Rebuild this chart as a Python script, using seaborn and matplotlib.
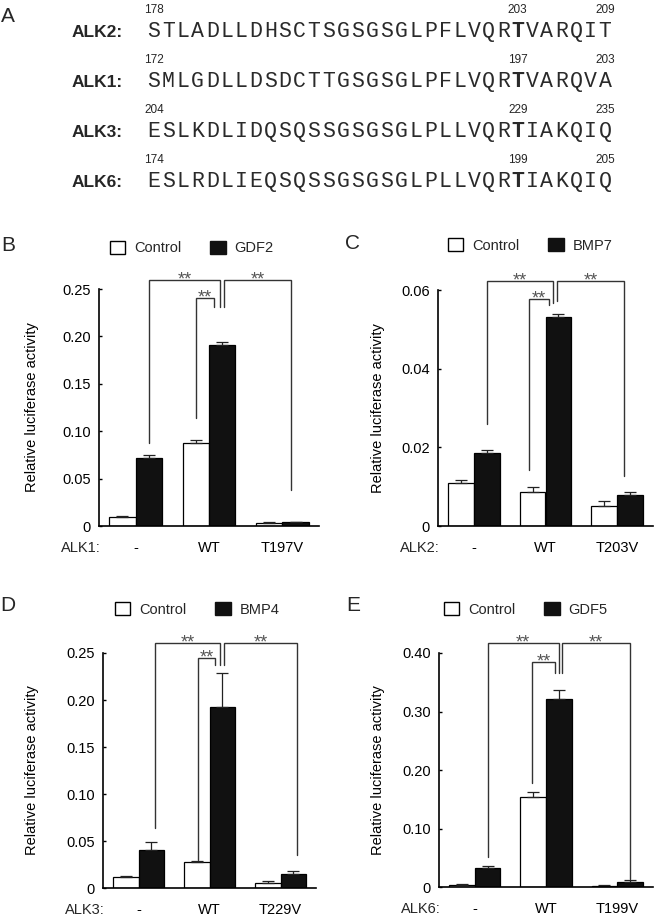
import matplotlib
matplotlib.use("Agg")
import matplotlib.pyplot as plt
import matplotlib.patches as mpatches
import numpy as np
import pandas as pd
import seaborn as sns

# ---- panel A: sequence alignment
alk_names = ['ALK2:', 'ALK1:', 'ALK3:', 'ALK6:']
sequences = ['STLADLLDHSCTSGSGSGLPFLVQRTVARQIT',
             'SMLGDLLDSDCTTGSGSGLPFLVQRTVARQVA',
             'ESLKDLIDQSQSSGSGSGLPLLVQRTIAKQIQ',
             'ESLRDLIEQSQSSGSGSGLPLLVQRTIAKQIQ']
start_pos = [178, 172, 204, 174]
thr_pos = [203, 197, 229, 199]
end_pos = [209, 203, 235, 205]

# ---- panels B-E: luciferase data (mean, upper error)
constructs_B = ['-', 'WT', 'T197V']
control_B = [0.0092, 0.0874, 0.0035]
control_err_B = [0.0013, 0.0028, 0.0005]
gdf2_B = [0.0719, 0.191, 0.0042]
gdf2_err_B = [0.0031, 0.0028, 0.0005]

constructs_C = ['-', 'WT', 'T203V']
control_C = [0.0109, 0.0086, 0.0051]
control_err_C = [0.0008, 0.0014, 0.0013]
bmp7_C = [0.0186, 0.0532, 0.0078]
bmp7_err_C = [0.0006, 0.0008, 0.0009]

constructs_D = ['-', 'WT', 'T229V']
control_D = [0.0112, 0.0273, 0.0055]
control_err_D = [0.0013, 0.0015, 0.0015]
bmp4_D = [0.0400, 0.1926, 0.0148]
bmp4_err_D = [0.0086, 0.0360, 0.0032]

constructs_E = ['-', 'WT', 'T199V']
control_E = [0.0030, 0.153, 0.0025]
control_err_E = [0.0015, 0.010, 0.0008]
gdf5_E = [0.033, 0.321, 0.009]
gdf5_err_E = [0.003, 0.015, 0.003]

W, H = 664, 921
sns.set_theme(style='ticks')
plt.rcParams['font.family'] = ['Liberation Sans', 'DejaVu Sans']
plt.rcParams['axes.linewidth'] = 1.2

fig = plt.figure(figsize=(W / 100, H / 100), dpi=100)
ov = fig.add_axes([0, 0, 1, 1])
ov.set_xlim(0, W)
ov.set_ylim(H, 0)
ov.axis('off')

# sequence block
pitch = 14.55
x0 = 154
row_base = [37, 87, 137, 187]
for name, seq, s, t, e, yb in zip(alk_names, sequences, start_pos, thr_pos, end_pos, row_base):
    ov.text(123, yb, name, ha='right', va='baseline', fontsize=12.5, weight='bold')
    for j, ch in enumerate(seq):
        ov.text(x0 + j * pitch, yb, ch, ha='center', va='baseline',
                family='Liberation Mono', fontsize=15.5, color='#2a2a2a',
                weight='bold' if j == t - s else 'normal')
    for num in (s, t, e):
        ov.text(x0 + (num - s) * pitch, yb - 24, str(num), ha='center',
                va='baseline', fontsize=8.5)

ov.text(8, 16, 'A', ha='center', va='center', fontsize=15)


def rect(l, t, r, b):
    return [l / W, 1 - b / H, (r - l) / W, (b - t) / H]


def draw_panel(box, receptor, constructs, ligand, ctrl, ctrl_err, stim, stim_err,
               yticks, ylabels, brackets, letter, letter_xy, legend_xy, ylab_x):
    ax = fig.add_axes(rect(*box))
    df = pd.DataFrame({
        'construct': constructs * 2,
        'treatment': ['Control'] * 3 + [ligand] * 3,
        'value': list(ctrl) + list(stim),
    })
    sns.barplot(data=df, x='construct', y='value', hue='treatment',
                order=constructs, hue_order=['Control', ligand],
                palette=['white', '#111111'], edgecolor='black', linewidth=0.9,
                width=0.72, gap=0, errorbar=None, legend=False, ax=ax)
    for cont, err in zip(ax.containers, [ctrl_err, stim_err]):
        xs = [b.get_x() + b.get_width() / 2 for b in cont]
        ys = [b.get_height() for b in cont]
        ax.errorbar(xs, ys, yerr=[np.zeros(len(err)), err], fmt='none',
                    ecolor='#222222', elinewidth=0.9, capsize=4.5, capthick=0.9)

    ax.set_xlim(-0.5, 2.5)
    ax.set_ylim(0, yticks[-1])
    ax.set_yticks(yticks)
    ax.set_yticklabels(ylabels)
    ax.tick_params(axis='y', direction='in', length=2.5, width=1, pad=6,
                   labelsize=10.5, colors='black')
    ax.tick_params(axis='x', length=0, pad=11, labelsize=10.5, colors='black')
    ax.set_xlabel('')
    ax.set_ylabel('Relative luciferase activity', fontsize=10.5, color='black')
    ax.yaxis.set_label_coords(ylab_x, 0.5)
    ax.yaxis.label.set_va('center')
    sns.despine(ax=ax)
    for sp in ax.spines.values():
        sp.set_color('black')
    ax.annotate(receptor, xy=(0, 0), xycoords='axes fraction', xytext=(1, -11),
                textcoords='offset points', ha='right', va='top', fontsize=10.5)

    # significance brackets
    def bx(g, h, dx):
        return g + (h - 0.5) * 0.36 + dx

    for (l_bar, l_dx, r_bar, r_dx, top, lb, rb) in brackets:
        xl = bx(*l_bar, l_dx)
        xr = bx(*r_bar, r_dx)
        ax.plot([xl, xl, xr, xr], [lb, top, top, rb], color='#333333', lw=1.0,
                clip_on=False, solid_joinstyle='miter')
        ax.annotate('**', xy=((xl + xr) / 2, top), xytext=(0, -3.2),
                    textcoords='offset points', ha='center', va='baseline',
                    fontsize=13, color='#555555', annotation_clip=False)

    ov.text(letter_xy[0], letter_xy[1], letter, ha='center', va='center', fontsize=15)
    handles = [mpatches.Patch(facecolor='white', edgecolor='black', lw=1.0),
               mpatches.Patch(facecolor='#111111', edgecolor='#111111', lw=1.0)]
    fig.legend(handles, ['Control', ligand], loc='center left',
               bbox_to_anchor=(legend_xy[0] / W, 1 - legend_xy[1] / H),
               ncol=2, frameon=False, fontsize=10.5, handlelength=1.05,
               handleheight=1.0, handletextpad=0.6, columnspacing=2.0,
               borderpad=0, borderaxespad=0)
    return ax


# bracket layout: (left bar (group, hue), dx, right bar, dx, top, left end, right end)
brackets_B = [((0, 1), 0.0, (1, 1), -0.03, 0.259, 0.0877, 0.2305),
              ((1, 1), 0.025, (2, 1), -0.06, 0.259, 0.2305, 0.038),
              ((1, 0), 0.0, (1, 1), -0.11, 0.240, 0.114, 0.2305)]
brackets_C = [((0, 1), 0.0, (1, 1), -0.072, 0.0623, 0.026, 0.0568),
              ((1, 1), -0.016, (2, 1), -0.085, 0.0623, 0.0572, 0.0127),
              ((1, 0), -0.05, (1, 1), -0.128, 0.0577, 0.0142, 0.0563)]
brackets_D = [((0, 1), 0.05, (1, 1), -0.03, 0.2606, 0.064, 0.237),
              ((1, 1), 0.024, (2, 1), 0.05, 0.2606, 0.237, 0.035),
              ((1, 0), 0.02, (1, 1), -0.10, 0.2447, 0.030, 0.237)]
brackets_E = [((0, 1), 0.0, (1, 1), 0.0, 0.417, 0.051, 0.366),
              ((1, 1), 0.044, (2, 1), 0.0, 0.417, 0.366, 0.0137),
              ((1, 0), -0.016, (1, 1), -0.054, 0.385, 0.178, 0.366)]

draw_panel((99, 289, 319, 526), 'ALK1:', constructs_B, 'GDF2', control_B, control_err_B,
           gdf2_B, gdf2_err_B, [0, 0.05, 0.10, 0.15, 0.20, 0.25],
           ['0', '0.05', '0.10', '0.15', '0.20', '0.25'], brackets_B,
           'B', (8, 245), (110, 248), -0.305)
draw_panel((438, 290, 653, 526), 'ALK2:', constructs_C, 'BMP7', control_C, control_err_C,
           bmp7_C, bmp7_err_C, [0, 0.02, 0.04, 0.06],
           ['0', '0.02', '0.04', '0.06'], brackets_C,
           'C', (352, 243), (448, 245.5), -0.279)
draw_panel((103, 653, 316, 888), 'ALK3:', constructs_D, 'BMP4', control_D, control_err_D,
           bmp4_D, bmp4_err_D, [0, 0.05, 0.10, 0.15, 0.20, 0.25],
           ['0', '0.05', '0.10', '0.15', '0.20', '0.25'], brackets_D,
           'D', (8, 605), (115, 609.5), -0.333)
draw_panel((439, 653, 653, 887), 'ALK6:', constructs_E, 'GDF5', control_E, control_err_E,
           gdf5_E, gdf5_err_E, [0, 0.10, 0.20, 0.30, 0.40],
           ['0', '0.10', '0.20', '0.30', '0.40'], brackets_E,
           'E', (353, 605), (444, 609.5), -0.285)

fig.savefig('out.png', dpi=100)
